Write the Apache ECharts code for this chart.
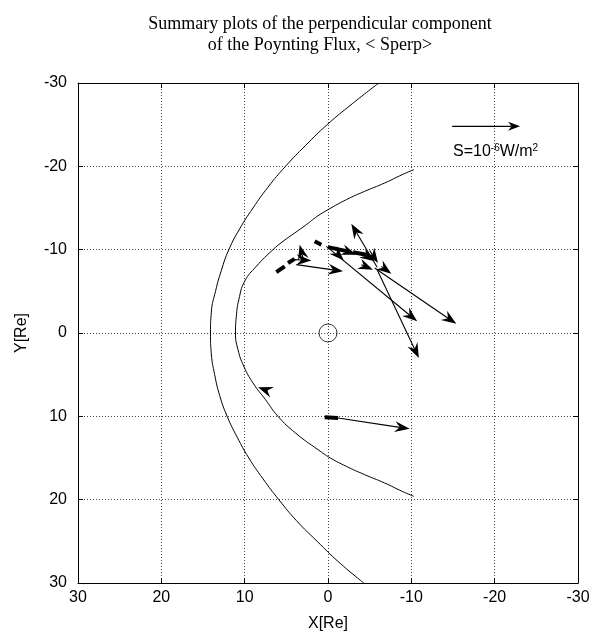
<!DOCTYPE html>
<html>
<head>
<meta charset="utf-8">
<script src="https://cdn.jsdelivr.net/npm/echarts@6/dist/echarts.min.js"></script>
<style>
  html, body { margin: 0; padding: 0; background: #fff; }
  #chart { width: 595px; height: 637px; }
</style>
</head>
<body>
<div id="chart"></div>
<script>
// bow shock (outer curve), [x, y] in Re
const bowShock = [
  [-6.1, -30], [-2.9, -27.5], [0.1, -25], [2.7, -22.5], [5.1, -20], [7.2, -17.5],
  [9.0, -15], [10.6, -12.5], [11.9, -10], [12.8, -7.5], [13.5, -5], [14.0, -2.5],
  [14.1, 0], [14.0, 2.5], [13.6, 5], [13.0, 7.5], [12.1, 10], [10.9, 12.5],
  [9.5, 15], [7.8, 17.5], [5.9, 20], [3.8, 22.5], [1.3, 25], [-1.3, 27.5], [-4.3, 30]
]
// magnetopause (inner curve)
const magnetopause = [
  [-10.3, -19.6], [-8.9, -19], [-6.8, -18], [-4.4, -17], [-2.2, -16], [0, -14.8],
  [1.3, -14], [2.6, -13], [4.0, -12], [5.4, -11], [6.6, -10], [8.6, -8], [10.0, -6.2],
  [10.7, -4], [11.0, -2], [11.1, 0], [10.8, 2], [10.1, 4], [9.0, 6], [7.5, 8],
  [6.0, 10], [3.9, 12], [1.2, 14], [-0.3, 15], [-2.2, 16], [-4.4, 17], [-6.8, 18],
  [-8.9, 19], [-10.3, 19.6]
]
// Poynting flux vectors: [x start, y start, x end, y end]
const fluxArrows = [
  [0.2, -10.4, -10.7, -1.4],
  [-5.6, -7.8, -15.4, -1.1],
  [-5.9, -7.6, -10.9, 3.0],
  [-5.9, -7.9, -2.8, -13.1],
  [3.8, -8.2, -1.8, -7.4],
  [4.0, -8.8, 2.0, -8.7],
  [3.0, -9.0, 3.4, -10.6],
  [-1.0, -9.6, -1.9, -8.7],
  [-2.0, -9.9, -3.4, -9.4],
  [-4.4, -9.4, -5.6, -8.6],
  [-5.0, -9.9, -6.0, -8.4],
  [-4.0, -8.2, -5.4, -7.6],
  [-6.4, -8.0, -7.6, -7.1],
  [7.3, 6.9, 8.4, 6.5],
  [-1.2, 10.2, -9.8, 11.5]
]
// short thick segments (overlapping tiny vectors)
const thickSegments = [
  [1.6, -11.0, 0.8, -10.6],
  [6.2, -7.3, 5.2, -8.0],
  [4.8, -8.4, 4.0, -8.9],
  [0.0, -10.3, -2.4, -9.8],
  [-3.0, -9.7, -4.6, -9.4],
  [0.4, 10.1, -1.2, 10.2]
]
const earth = [[0, 0]]
// reference vector for the scale
const scaleArrow = [[-14.9, -24.8, -23.05, -24.8]]

const chart = echarts.init(document.getElementById('chart'))

const sansFont = 'Liberation Sans'
const gridLine = { show: true, lineStyle: { color: '#444', type: [1, 2], width: 1 } }

// arrow drawn as a line plus a notched head
const arrowRenderer = (headLen, headHalf, notch) => (params, api) => {
  const p1 = api.coord([api.value(0), api.value(1)])
  const p2 = api.coord([api.value(2), api.value(3)])
  const dx = p2[0] - p1[0]
  const dy = p2[1] - p1[1]
  const len = Math.hypot(dx, dy) || 1
  const ux = dx / len
  const uy = dy / len
  const bx = p2[0] - ux * headLen
  const by = p2[1] - uy * headLen
  const nx = p2[0] - ux * notch
  const ny = p2[1] - uy * notch
  return {
    type: 'group',
    children: [
      {
        type: 'line',
        shape: { x1: p1[0], y1: p1[1], x2: nx, y2: ny },
        style: { stroke: '#000', lineWidth: 1.1 }
      },
      {
        type: 'polygon',
        shape: {
          points: [
            [p2[0], p2[1]],
            [bx - uy * headHalf, by + ux * headHalf],
            [nx, ny],
            [bx + uy * headHalf, by - ux * headHalf]
          ]
        },
        style: { fill: '#000' }
      }
    ]
  }
}

const mainAxis = (extra) => Object.assign({
  type: 'value',
  min: -30,
  max: 30,
  interval: 10,
  inverse: true,
  axisLine: { show: true, onZero: false, lineStyle: { color: '#000', width: 1 } },
  axisTick: { show: true, inside: true, length: 5, lineStyle: { color: '#000' } },
  axisLabel: { color: '#000', fontFamily: sansFont, fontSize: 16 },
  nameTextStyle: { color: '#000', fontFamily: sansFont, fontSize: 16 }
}, extra)

chart.setOption({
  animation: false,
  title: {
    text: 'Summary plots of the perpendicular component\nof the Poynting Flux, < Sperp>',
    left: 315,
    top: 9,
    textAlign: 'center',
    textStyle: {
      fontFamily: 'Liberation Serif',
      fontSize: 18,
      fontWeight: 'normal',
      color: '#000',
      lineHeight: 21
    }
  },
  grid: { left: 78, top: 83, width: 500, height: 501 },
  xAxis: [
    mainAxis({
      position: 'bottom',
      name: 'X[Re]',
      nameLocation: 'middle',
      nameGap: 33,
      axisLabel: { color: '#000', fontFamily: sansFont, fontSize: 16, margin: 7 },
      splitLine: gridLine
    }),
    mainAxis({ position: 'top', axisLabel: { show: false }, splitLine: { show: false } })
  ],
  yAxis: [
    mainAxis({
      position: 'left',
      name: 'Y[Re]',
      nameLocation: 'middle',
      nameGap: 48,
      axisLabel: { color: '#000', fontFamily: sansFont, fontSize: 16, margin: 11 },
      splitLine: gridLine
    }),
    mainAxis({ position: 'right', axisLabel: { show: false }, splitLine: { show: false } })
  ],
  graphic: [
    {
      type: 'text',
      left: 453,
      top: 143,
      style: {
        text: 'S=10{sup|-6}W/m{sup|2}',
        fill: '#000',
        font: '16px "Liberation Sans"',
        rich: {
          sup: { fontSize: 10, fontFamily: sansFont, verticalAlign: 'top', lineHeight: 17 }
        }
      }
    }
  ],
  series: [
    {
      type: 'line',
      data: bowShock,
      smooth: 0.5,
      showSymbol: false,
      lineStyle: { color: '#000', width: 1 },
      silent: true
    },
    {
      type: 'line',
      data: magnetopause,
      smooth: 0.5,
      showSymbol: false,
      lineStyle: { color: '#000', width: 1 },
      silent: true
    },
    {
      type: 'scatter',
      data: earth,
      symbol: 'circle',
      symbolSize: 18,
      itemStyle: { color: 'rgba(0,0,0,0)', borderColor: '#000', borderWidth: 1 },
      silent: true
    },
    {
      type: 'lines',
      coordinateSystem: 'cartesian2d',
      data: thickSegments.map((a) => ({ coords: [[a[0], a[1]], [a[2], a[3]]] })),
      symbol: ['none', 'none'],
      lineStyle: { color: '#000', width: 4, opacity: 1 },
      silent: true
    },
    {
      type: 'custom',
      data: fluxArrows,
      encode: { x: [0, 2], y: [1, 3] },
      renderItem: arrowRenderer(15, 5.5, 10),
      silent: true
    },
    {
      type: 'custom',
      data: scaleArrow,
      encode: { x: [0, 2], y: [1, 3] },
      renderItem: arrowRenderer(12, 4.5, 8.5),
      silent: true
    }
  ]
})
</script>
</body>
</html>
